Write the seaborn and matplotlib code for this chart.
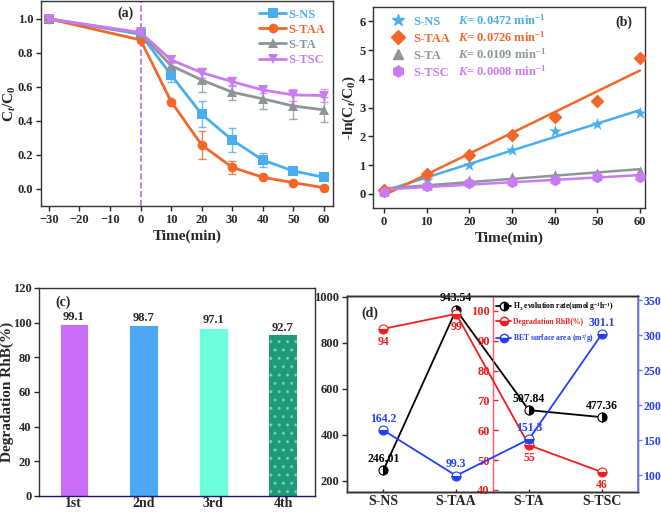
import numpy as np
import pandas as pd
import matplotlib.pyplot as plt
import seaborn as sns
from matplotlib.lines import Line2D

sns.set_theme(style="ticks")
plt.rcParams['font.family'] = ['Liberation Serif', 'DejaVu Serif']
plt.rcParams['font.weight'] = 'bold'
plt.rcParams['axes.labelweight'] = 'bold'
plt.rcParams['mathtext.fontset'] = 'custom'
plt.rcParams['mathtext.rm'] = 'Liberation Serif:bold'
plt.rcParams['mathtext.it'] = 'Liberation Serif:bold:italic'
plt.rcParams['mathtext.bf'] = 'Liberation Serif:bold'
plt.rcParams['axes.edgecolor'] = '#333333'
plt.rcParams['axes.linewidth'] = 1.0

# ---- data ----
samples = ["S-NS", "S-TAA", "S-TA", "S-TSC"]
colors = ["#4aaeee", "#f4672a", "#8d959b", "#c97cf2"]

# (a) Ct/C0 vs time
time_a = [-30, 0, 10, 20, 30, 40, 50, 60]
ns_a = [1.0, 0.91, 0.67, 0.44, 0.288, 0.17, 0.106, 0.069]
taa_a = [1.0, 0.876, 0.514, 0.259, 0.127, 0.069, 0.037, 0.008]
ta_a = [1.0, 0.915, 0.725, 0.641, 0.569, 0.53, 0.488, 0.465]
tsc_a = [1.0, 0.92, 0.759, 0.684, 0.631, 0.582, 0.553, 0.549]
ns_err = [0.01, 0.01, 0.04, 0.078, 0.073, 0.04, 0.01, 0.01]
taa_err = [0.01, 0.01, 0.01, 0.08, 0.04, 0.01, 0.01, 0.01]
ta_err = [0.01, 0.02, 0.02, 0.07, 0.045, 0.057, 0.077, 0.073]
tsc_err = [0.01, 0.01, 0.02, 0.03, 0.025, 0.02, 0.037, 0.04]

# (b) -ln(Ct/C0) vs time
time_b = [0, 10, 20, 30, 40, 50, 60]
ns_b = [0.1, 0.5, 1.02, 1.54, 2.19, 2.42, 2.8]
taa_b = [0.12, 0.68, 1.37, 2.05, 2.68, 3.24, 4.72]
ta_b = [0.1, 0.3, 0.48, 0.59, 0.65, 0.74, 0.8]
tsc_b = [0.08, 0.27, 0.38, 0.42, 0.5, 0.59, 0.6]
k_labels = ["0.0472", "0.0726", "0.0109", "0.0008"]

# (c) cycling
cycles = ["1st", "2nd", "3rd", "4th"]
degr_cycles = [99.1, 98.7, 97.1, 92.7]
cycle_colors = ["#c96cf6", "#4aa8f6", "#6dfedb", "#1e9a78"]

# (d) comparison
h2_rate = [246.01, 943.54, 507.84, 477.36]
degr_rhb = [94, 99, 55, 46]
bet_area = [164.2, 99.3, 151.3, 301.1]

fig = plt.figure(figsize=(6.61, 5.12), dpi=100)
W, H = 661, 512


def add_axes(left, right, top, bottom):
    return fig.add_axes([left / W, 1 - bottom / H, (right - left) / W, (bottom - top) / H])


tick_kw = dict(labelsize=9, width=1, length=3.5, direction="out", pad=2)

# ---- (a) ----
ax = add_axes(41, 333, 1, 206)
series_a = [ns_a, taa_a, ta_a, tsc_a]
errs_a = [ns_err, taa_err, ta_err, tsc_err]
markers_a = ["s", "o", "^", "v"]
ax.axvline(0, color="#b36bf2", ls="--", lw=1.2, zorder=1)
for name, vals, err, c, m in zip(samples, series_a, errs_a, colors, markers_a):
    ax.errorbar(time_a, vals, yerr=err, fmt="none", ecolor=c, elinewidth=1, capsize=3, alpha=0.8)
    sns.lineplot(x=time_a, y=vals, ax=ax, color=c, marker=m, markersize=7,
                 markeredgewidth=0, lw=2, label=name)
ax.set_xlim(-32.6, 63)
ax.set_ylim(-0.1, 1.105)
ax.set_xticks(range(-30, 61, 10))
ax.set_yticks(np.arange(0, 1.01, 0.2))
ax.set_yticklabels([f"{v:.1f}" for v in np.arange(0, 1.01, 0.2)])
ax.tick_params(**tick_kw)
ax.set_xlabel("Time(min)", fontsize=11, labelpad=3)
ax.set_ylabel("C$_t$/C$_0$", fontsize=11)
ax.yaxis.set_label_coords(-0.079, 0.5)
leg = ax.legend(loc="upper right", frameon=False, fontsize=9, handlelength=2.2,
                borderaxespad=0.2, labelspacing=0.25, handletextpad=0.2)
for t, c in zip(leg.get_texts(), colors):
    t.set_color(c)
ax.text(0.29, 0.94, "(a)", transform=ax.transAxes, fontsize=10, ha="center", va="center")

# ---- (b) ----
ax_bk = add_axes(373, 645, 7, 208)
ax = ax_bk
series_b = [ns_b, taa_b, ta_b, tsc_b]
markers_b = ["*", "D", "^", "h"]
sizes_b = [90, 50, 55, 70]
handles = []
for name, vals, c, m, s in zip(samples, series_b, colors, markers_b, sizes_b):
    sns.regplot(x=time_b, y=vals, ax=ax, scatter=False, ci=None, truncate=True,
                color=c, line_kws=dict(lw=1.8))
    sns.scatterplot(x=time_b, y=vals, ax=ax, color=c, marker=m, s=s, linewidth=0, zorder=3)
    handles.append(Line2D([], [], ls="none", marker=m, color=c, markersize=np.sqrt(s) * 0.95))
ax.set_xlim(-2.6, 61.2)
ax.set_ylim(-0.49, 6.5)
ax.set_xticks(range(0, 61, 10))
ax.set_yticks(range(0, 7))
ax.tick_params(**tick_kw)
ax.set_xlabel("Time(min)", fontsize=11, labelpad=3)
ax.set_ylabel("-ln(C$_t$/C$_0$)", fontsize=11, labelpad=1)
leg_b = ax.legend(handles, samples, loc="upper left", bbox_to_anchor=(0.033, 1.0),
                  frameon=False, fontsize=9, labelspacing=0.4, handlelength=1.2,
                  handletextpad=0.6, borderaxespad=0.3)
for t, c in zip(leg_b.get_texts(), colors):
    t.set_color(c)
ax.text(0.955, 0.925, "(b)", transform=ax.transAxes, fontsize=10, ha="right", va="center")

# ---- (c) ----
ax = add_axes(39, 315, 288, 496)
df_c = pd.DataFrame({"cycle": cycles, "degr": degr_cycles})
sns.barplot(data=df_c, x="cycle", y="degr", hue="cycle", palette=cycle_colors,
            legend=False, width=0.41, ax=ax, saturation=1)
for p, c in zip(ax.patches, cycle_colors):
    p.set_edgecolor("white")
    p.set_linewidth(0.6)
ax.patches[3].set_hatch("..")
ax.patches[3].set_edgecolor("#6fd0b8")
ax.patches[3].set_linewidth(0)
for i, v in enumerate(degr_cycles):
    ax.text(i, v + 0.8, f"{v}", ha="center", va="bottom", fontsize=9)
ax.set_xlim(-0.5, 3.46)
ax.set_ylim(0, 120)
ax.set_yticks(range(0, 121, 20))
ax.tick_params(axis="y", **tick_kw)
ax.tick_params(axis="x", labelsize=10, length=0, pad=1)
ax.spines["bottom"].set_color("#1a1a66")
ax.set_xlabel("")
ax.set_ylabel("Degradation RhB(%)", fontsize=11)
ax.yaxis.set_label_coords(-0.09, 0.5)
ax.text(0.06, 0.93, "(c)", transform=ax.transAxes, fontsize=10, va="center")

# ---- (d) ----
red = "#f01e1e"
blue = "#2340f5"
x_d = np.arange(len(samples))
ax = add_axes(347, 638, 296, 492)
ax.plot(x_d, h2_rate, color="black", lw=1.3, marker="o", markersize=6.5, fillstyle="right",
        markerfacecolor="black", markerfacecoloralt="white", markeredgecolor="black",
        markeredgewidth=0.8, zorder=3)
ax.set_xlim(-0.5, 3.5)
ax.set_ylim(152, 1004)
ax.set_yticks(range(200, 1001, 200))
ax.set_xticks(x_d)
ax.set_xticklabels(samples)
ax.tick_params(axis="y", **tick_kw)
ax.tick_params(axis="x", labelsize=10, width=1, length=2, direction="in", pad=2)
for xi, v in zip(x_d, h2_rate):
    ax.annotate(f"{v:.2f}", (xi, v), xytext=(0, 4), textcoords="offset points",
                ha="center", va="bottom", fontsize=8.5, color="black")
ax.text(0.05, 0.91, "(d)", transform=ax.transAxes, fontsize=10, va="center")

ax_r = ax.twinx()
ax_r.plot(x_d, degr_rhb, color=red, lw=1.3, marker="o", markersize=6.5, fillstyle="bottom",
          markerfacecolor=red, markerfacecoloralt="white", markeredgecolor=red,
          markeredgewidth=0.8, zorder=3)
ax_r.set_ylim(39.3, 105)
ax_r.set_yticks(range(40, 101, 10))
ax_r.yaxis.set_ticks_position("left")
ax_r.spines["left"].set_position(("axes", 0.5))
ax_r.spines["left"].set_visible(True)
ax_r.spines["left"].set_color("#ff5a6a")
ax_r.spines["right"].set_visible(False)
ax_r.tick_params(axis="y", labelsize=9, width=1, length=3.5, direction="in",
                 colors=red, pad=2)
for xi, v in zip(x_d, degr_rhb):
    ax_r.annotate(f"{v}", (xi, v), xytext=(0, -5), textcoords="offset points",
                  ha="center", va="top", fontsize=8.5, color=red)

ax_b = ax.twinx()
ax_b.plot(x_d, bet_area, color=blue, lw=1.3, marker="o", markersize=6.5, fillstyle="bottom",
          markerfacecolor=blue, markerfacecoloralt="white", markeredgecolor=blue,
          markeredgewidth=0.8, zorder=3)
ax_b.set_ylim(76, 356)
ax_b.set_yticks(range(100, 351, 50))
ax_b.spines["right"].set_color("#6b7cff")
ax_b.spines["right"].set_linewidth(1.2)
ax_b.tick_params(axis="y", labelsize=8.5, width=1, length=3, direction="out", pad=1,
                 colors="#6b7cff", labelcolor=blue)
for xi, v in zip(x_d, bet_area):
    ax_b.annotate(f"{v}", (xi, v), xytext=(0, 4), textcoords="offset points",
                  ha="center", va="bottom", fontsize=8.5, color=blue)

leg_handles = [
    Line2D([], [], color="black", marker="o", fillstyle="right", markerfacecolor="black",
           markerfacecoloralt="white", markeredgecolor="black", markersize=6, lw=1.3),
    Line2D([], [], color=red, marker="o", fillstyle="bottom", markerfacecolor=red,
           markerfacecoloralt="white", markeredgecolor=red, markersize=6, lw=1.3),
    Line2D([], [], color=blue, marker="o", fillstyle="bottom", markerfacecolor=blue,
           markerfacecoloralt="white", markeredgecolor=blue, markersize=6, lw=1.3),
]
leg_labels = ["H$_2$ evolution rate(umol g$^{-1}$h$^{-1}$)", "Degradation RhB(%)",
              "BET surface area (m$^2$/g)"]
leg = ax_b.legend(leg_handles, leg_labels, loc="upper left", bbox_to_anchor=(0.5, 1.0),
                  frameon=False, fontsize=5.5, handlelength=1.9, labelspacing=0.7,
                  handletextpad=0.3, borderaxespad=0.1)
for t, c in zip(leg.get_texts(), ["black", red, blue]):
    t.set_color(c)

# K values in (b), aligned with the legend rows
fig.canvas.draw()
inv = ax_bk.transAxes.inverted()
for t, k, c in zip(leg_b.get_texts(), k_labels, colors):
    bb = t.get_window_extent()
    _, y_ax = inv.transform((bb.x0, bb.y0))
    ax_bk.text(0.3125, y_ax, f"$K$= {k} min$^{{-1}}$", transform=ax_bk.transAxes,
               color=c, fontsize=9, va="bottom")

fig.savefig("out.png", dpi=100)
